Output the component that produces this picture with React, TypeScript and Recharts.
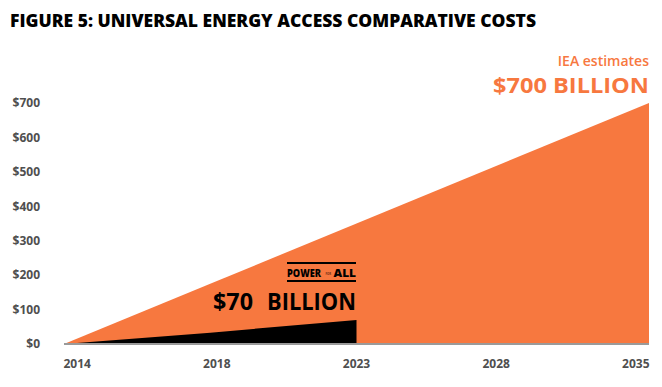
import { AreaChart, Area, XAxis, YAxis } from "recharts";

const years = ["2014", "2018", "2023", "2028", "2035"];
const ieaCost = [0, 175, 350, 525, 700];
const powerForAllCost = [0, 33, 70, null, null];
const yTicks = [0, 100, 200, 300, 400, 500, 600, 700];

const data = years.map((year, i) => ({
  year,
  iea: ieaCost[i],
  pfa: powerForAllCost[i],
}));

const ORANGE = "#F7783F";
const AXIS_TEXT = "#4f4f4f";
const FONT = "'Open Sans', 'DejaVu Sans', sans-serif";

function XTick(props: any) {
  const { x, y, payload, index } = props;
  // labels sit a bit inside the plot ends
  const lx = x + (2 - index) * 6.6;
  return (
    <text
      x={lx}
      y={y + 23.5}
      textAnchor="middle"
      fontFamily={FONT}
      fontWeight={700}
      fontSize={12}
      fill={AXIS_TEXT}
    >
      {payload.value}
    </text>
  );
}

function YTick(props: any) {
  const { x, y, payload } = props;
  return (
    <text
      x={x}
      y={y + 4.3}
      textAnchor="end"
      fontFamily={FONT}
      fontWeight={700}
      fontSize={12}
      fill={AXIS_TEXT}
    >
      {"$" + payload.value}
    </text>
  );
}

export default function App() {
  return (
    <div
      style={{
        position: "absolute",
        left: 0,
        top: 0,
        width: 662,
        height: 387,
        background: "#fff",
      }}
    >
      <AreaChart
        width={662}
        height={387}
        data={data}
        margin={{ top: 103, right: 13, left: 0, bottom: 13 }}
      >
        <XAxis
          dataKey="year"
          interval={0}
          height={30}
          tickLine={false}
          tickSize={0}
          tickMargin={0}
          axisLine={{ stroke: "#9a9a9a", strokeWidth: 2 }}
          tick={<XTick />}
        />
        <YAxis
          domain={[0, 700]}
          ticks={yTicks}
          width={64}
          axisLine={false}
          tickLine={false}
          tickSize={0}
          tickMargin={24}
          tick={<YTick />}
        />
        <Area
          type="linear"
          dataKey="iea"
          stroke="none"
          fill={ORANGE}
          fillOpacity={1}
          isAnimationActive={false}
        />
        <Area
          type="linear"
          dataKey="pfa"
          stroke="none"
          fill="#000"
          fillOpacity={1}
          isAnimationActive={false}
        />
      </AreaChart>

      <svg
        width={662}
        height={387}
        style={{ position: "absolute", left: 0, top: 0, pointerEvents: "none" }}
      >
        <text
          x={10}
          y={27}
          fontFamily={FONT}
          fontWeight={800}
          fontSize={18}
          fill="#000"
          textLength={526}
          lengthAdjust="spacingAndGlyphs"
        >
          FIGURE 5: UNIVERSAL ENERGY ACCESS COMPARATIVE COSTS
        </text>

        <text
          x={649}
          y={66}
          textAnchor="end"
          fontFamily={FONT}
          fontWeight={600}
          fontSize={14}
          fill={ORANGE}
        >
          IEA estimates
        </text>
        <text
          x={493}
          y={93}
          fontFamily={FONT}
          fontWeight={700}
          fontSize={22}
          fill={ORANGE}
          textLength={156}
          lengthAdjust="spacingAndGlyphs"
        >
          $700 BILLION
        </text>

        <line x1={287} x2={356} y1={263} y2={263} stroke="#000" strokeWidth={2} />
        <line x1={287} x2={356} y1={281} y2={281} stroke="#000" strokeWidth={2} />
        <text
          x={287}
          y={276.5}
          fontFamily={FONT}
          fontWeight={800}
          fontSize={10}
          fill="#000"
          textLength={34}
          lengthAdjust="spacingAndGlyphs"
        >
          POWER
        </text>
        <text
          x={325.5}
          y={274.5}
          fontFamily={FONT}
          fontWeight={700}
          fontSize={3.5}
          fill="#6a2e14"
          textLength={5.5}
          lengthAdjust="spacingAndGlyphs"
        >
          FOR
        </text>
        <text
          x={333.5}
          y={276.5}
          fontFamily={FONT}
          fontWeight={800}
          fontSize={10}
          fill="#000"
          textLength={22.5}
          lengthAdjust="spacingAndGlyphs"
        >
          ALL
        </text>

        <text
          x={213}
          y={310}
          fontFamily={FONT}
          fontWeight={700}
          fontSize={23}
          fill="#000"
          textLength={40}
          lengthAdjust="spacingAndGlyphs"
        >
          $70
        </text>
        <text
          x={267}
          y={310}
          fontFamily={FONT}
          fontWeight={700}
          fontSize={23}
          fill="#000"
          textLength={89}
          lengthAdjust="spacingAndGlyphs"
        >
          BILLION
        </text>
      </svg>
    </div>
  );
}
